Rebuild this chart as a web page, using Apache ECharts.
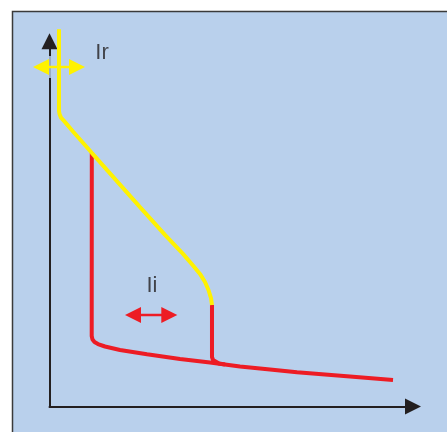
<!DOCTYPE html>
<html>
<head>
<meta charset="utf-8">
<script src="https://cdn.jsdelivr.net/npm/echarts@6/dist/echarts.min.js"></script>
<style>
  html, body { margin: 0; padding: 0; background: #ffffff; }
  #chart { width: 447px; height: 432px; }
</style>
</head>
<body>
<div id="chart"></div>
<script>
// Trip curve (yellow): long-time zone up to the instantaneous threshold
const yellowCurve = [
  [2.61, 103.3], [2.61, 81.0], [2.75, 80.1], [3.16, 79.1], [3.99, 78.2],
  [6.46, 75.3], [11.69, 69.4], [18.29, 62.0], [24.90, 54.6], [31.77, 47.0],
  [36.73, 41.8], [39.48, 38.6], [41.40, 36.3], [42.78, 34.1], [43.74, 31.9],
  [44.43, 29.7], [44.70, 27.8]
];
// Red curve: instantaneous trip (low setting) and tail
const redCurve = [
  [11.64, 69.4], [11.61, 19.3], [11.83, 18.35], [12.38, 17.66], [13.34, 17.11],
  [15.27, 16.43], [19.39, 15.47], [26.82, 14.29], [35.90, 13.01], [44.15, 12.05],
  [52.41, 10.95], [60.66, 10.13], [68.09, 9.36], [82.67, 8.21], [94.50, 7.26]
];
// Red vertical drop at the high instantaneous setting
const redDrop = [
  [44.70, 27.8], [44.70, 13.55], [44.98, 12.73], [45.53, 12.19], [46.63, 11.77], [48.28, 11.5]
];
// Adjustment arrows
const irArrow = [[-2.34, 92.96], [7.57, 92.96]];
const iiArrow = [[22.97, 25.05], [32.96, 25.05]];
// Text labels
const labelNames = ['Ir', 'Ii'];
const labelCoords = [[14.44, 96.8], [28.2, 33.05]];

const BG = '#B9D0EC';
const YELLOW = '#FFF200';
const RED = '#ED1C24';
const INK = '#231F20';

function arrowData(pts) {
  return [
    { value: pts[0], symbolRotate: 90 },
    { value: pts[1], symbolRotate: -90 }
  ];
}

const chart = echarts.init(document.getElementById('chart'), null, { renderer: 'canvas' });
chart.setOption({
  animation: false,
  backgroundColor: '#ffffff',
  graphic: [{
    type: 'rect',
    z: -10,
    silent: true,
    shape: { x: 12.5, y: 11.5, width: 600, height: 600 },
    style: { fill: BG, stroke: '#3a3a3a', lineWidth: 1.5 }
  }],
  grid: { left: 49.5, right: 34, top: 41.3, bottom: 25.5, containLabel: false },
  xAxis: {
    type: 'value', min: 0, max: 100,
    axisLine: { show: true, symbol: ['none', 'triangle'], symbolSize: [16, 16],
      lineStyle: { color: INK, width: 2 } },
    axisTick: { show: false }, axisLabel: { show: false }, splitLine: { show: false }
  },
  yAxis: {
    type: 'value', min: 0, max: 100,
    axisLine: { show: true, symbol: ['none', 'triangle'], symbolSize: [16, 16],
      lineStyle: { color: INK, width: 2 } },
    axisTick: { show: false }, axisLabel: { show: false }, splitLine: { show: false }
  },
  series: [
    {
      type: 'scatter', silent: true, clip: false,
      data: [irArrow[0]],
      symbol: 'rect', symbolSize: [20, 22],
      itemStyle: { color: BG }
    },
    {
      type: 'line', silent: true, clip: false, symbol: 'none', showSymbol: false,
      data: redCurve, lineStyle: { color: RED, width: 4 }
    },
    {
      type: 'line', silent: true, clip: false, symbol: 'none', showSymbol: false,
      data: redDrop, lineStyle: { color: RED, width: 4 }
    },
    {
      type: 'line', silent: true, clip: false, symbol: 'none', showSymbol: false,
      data: yellowCurve, lineStyle: { color: YELLOW, width: 4 }
    },
    {
      type: 'line', silent: true, clip: false,
      symbol: 'triangle', symbolSize: 16, showSymbol: true,
      data: arrowData(irArrow),
      itemStyle: { color: YELLOW },
      lineStyle: { color: YELLOW, width: 2.5 }
    },
    {
      type: 'line', silent: true, clip: false,
      symbol: 'triangle', symbolSize: 16, showSymbol: true,
      data: arrowData(iiArrow),
      itemStyle: { color: RED },
      lineStyle: { color: RED, width: 2.5 }
    },
    {
      type: 'scatter', silent: true, clip: false,
      symbolSize: 1,
      itemStyle: { color: 'rgba(0,0,0,0)' },
      data: labelNames.map((n, i) => ({ name: n, value: labelCoords[i] })),
      label: {
        show: true, position: 'inside', formatter: '{b}',
        color: INK, fontSize: 22,
        fontFamily: '"Liberation Sans", Arial, Helvetica, sans-serif'
      }
    }
  ]
});
</script>
</body>
</html>
